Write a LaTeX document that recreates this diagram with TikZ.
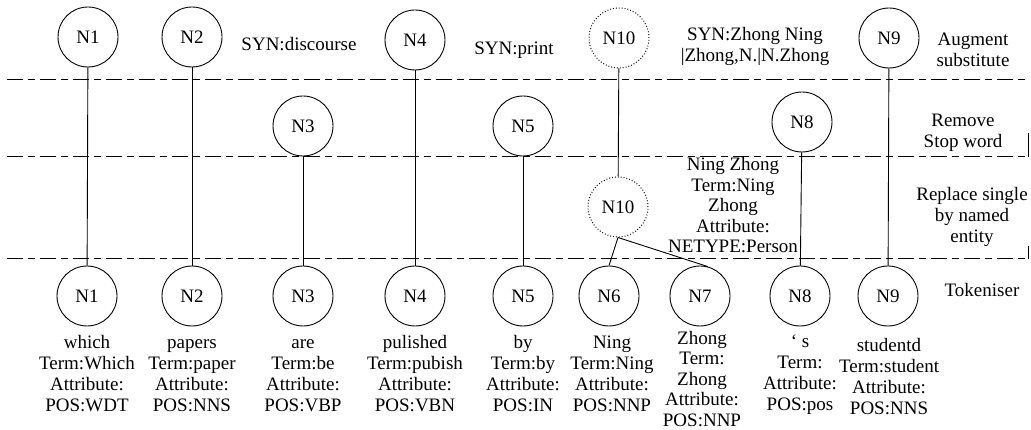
\documentclass[tikz,border=0pt]{standalone}
\usepackage{fontspec}
\setmainfont{Liberation Serif}
\newfontfamily\labfont{Liberation Serif}
\begin{document}
\begin{tikzpicture}[x=1pt,y=-1pt,
  font=\labfont\fontsize{19}{21}\selectfont,
  tok/.style={circle,draw,line width=0.9pt,minimum size=60pt,inner sep=0pt},
  netok/.style={tok,dotted,line width=1pt},
  sepline/.style={line width=1pt,dash pattern=on 16pt off 5pt on 7pt off 5pt},
  link/.style={line width=0.9pt},
  lab/.style={align=center,inner sep=0pt,anchor=base}]
\useasboundingbox (0,0) rectangle (1031,430);

% separator lines
\coordinate (l1a) at (7,80);   \coordinate (l1b) at (1028,80);
\coordinate (l2a) at (7,157);  \coordinate (l2b) at (1028,157);
\coordinate (l3a) at (7,259);  \coordinate (l3b) at (1028,259);
\coordinate (r2) at (1028,133);
\coordinate (r3) at (1028,246);
\draw[sepline] (l1a) -- (l1b);
\draw[sepline] (l2a) -- (l2b);
\draw[sepline] (l3a) -- (l3b);
\draw[line width=1pt] (r2) -- (l2b);
\draw[line width=1pt] (r3) -- (l3b);

% top row
\node[tok] (t1) at (88,37) {N1};
\node[tok] (t2) at (192,37) {N2};
\node[tok] (t4) at (415,40) {N4};
\node[netok] (t10) at (619,38) {N10};
\node[tok] (t9) at (889,38) {N9};

% middle row
\node[tok] (m3) at (303,126) {N3};
\node[tok] (m5) at (523,126) {N5};
\node[tok] (m8) at (802,122) {N8};
\node[netok] (e10) at (618,207) {N10};

% bottom row
\node[tok] (b1) at (87,296) {N1};
\node[tok] (b2) at (192,296) {N2};
\node[tok] (b3) at (303,296) {N3};
\node[tok] (b4) at (415,296) {N4};
\node[tok] (b5) at (523,296) {N5};
\node[tok] (b6) at (609,296) {N6};
\node[tok] (b7) at (700,296) {N7};
\node[tok] (b8) at (800,296) {N8};
\node[tok] (b9) at (888,296) {N9};

% connectors
\draw[link] (t1) -- (b1);
\draw[link] (t2) -- (b2);
\draw[link] (m3) -- (b3);
\draw[link] (t4) -- (b4);
\draw[link] (m5) -- (b5);
\draw[link] (t10) -- (e10);
\draw[link] (m8) -- (b8);
\draw[link] (t9) -- (b9);
\draw[link] (e10.south) -- (b6.north);
\draw[link] (e10.south) -- (b7.75);

% top labels (base = baseline of last line)
\node[lab] (syn1) at (299,51) {SYN:discourse};
\node[lab] (syn2) at (514,55) {SYN:print};
\node[lab] (syn3) at (755,62) {SYN:Zhong Ning\\|Zhong,N.|N.Zhong};
\node[lab] (aug) at (973,67) {Augment\\substitute};
\node[lab] (rem) at (963,148) {Remove\\Stop word};
\node[lab] (rep) at (972,243) {Replace single\\by named\\entity};
\node[lab] (tokn) at (982,297) {Tokeniser};
\node[lab,font=\labfont\fontsize{19}{20.5}\selectfont] (nel) at (733,253) {Ning Zhong\\Term:Ning\\Zhong\\Attribute:\\NETYPE:Person};

% bottom labels
\node[lab] (w1) at (87,411) {which\\Term:Which\\Attribute:\\POS:WDT};
\node[lab] (w2) at (192,411) {papers\\Term:paper\\Attribute:\\POS:NNS};
\node[lab] (w3) at (303,411) {are\\Term:be\\Attribute:\\POS:VBP};
\node[lab] (w4) at (415,411) {pulished\\Term:pubish\\Attribute:\\POS:VBN};
\node[lab] (w5) at (523,411) {by\\Term:by\\Attribute:\\POS:IN};
\node[lab] (w6) at (612,411) {Ning\\Term:Ning\\Attribute:\\POS:NNP};
\node[lab,font=\labfont\fontsize{19}{20.5}\selectfont] (w7) at (702,426) {Zhong\\Term:\\Zhong\\Attribute:\\POS:NNP};
\node[lab] (w8) at (800,410) {‘ s\\Term:\\Attribute:\\POS:pos};
\node[lab] (w9) at (889,414) {studentd\\Term:student\\Attribute:\\POS:NNS};
\end{tikzpicture}
\end{document}
